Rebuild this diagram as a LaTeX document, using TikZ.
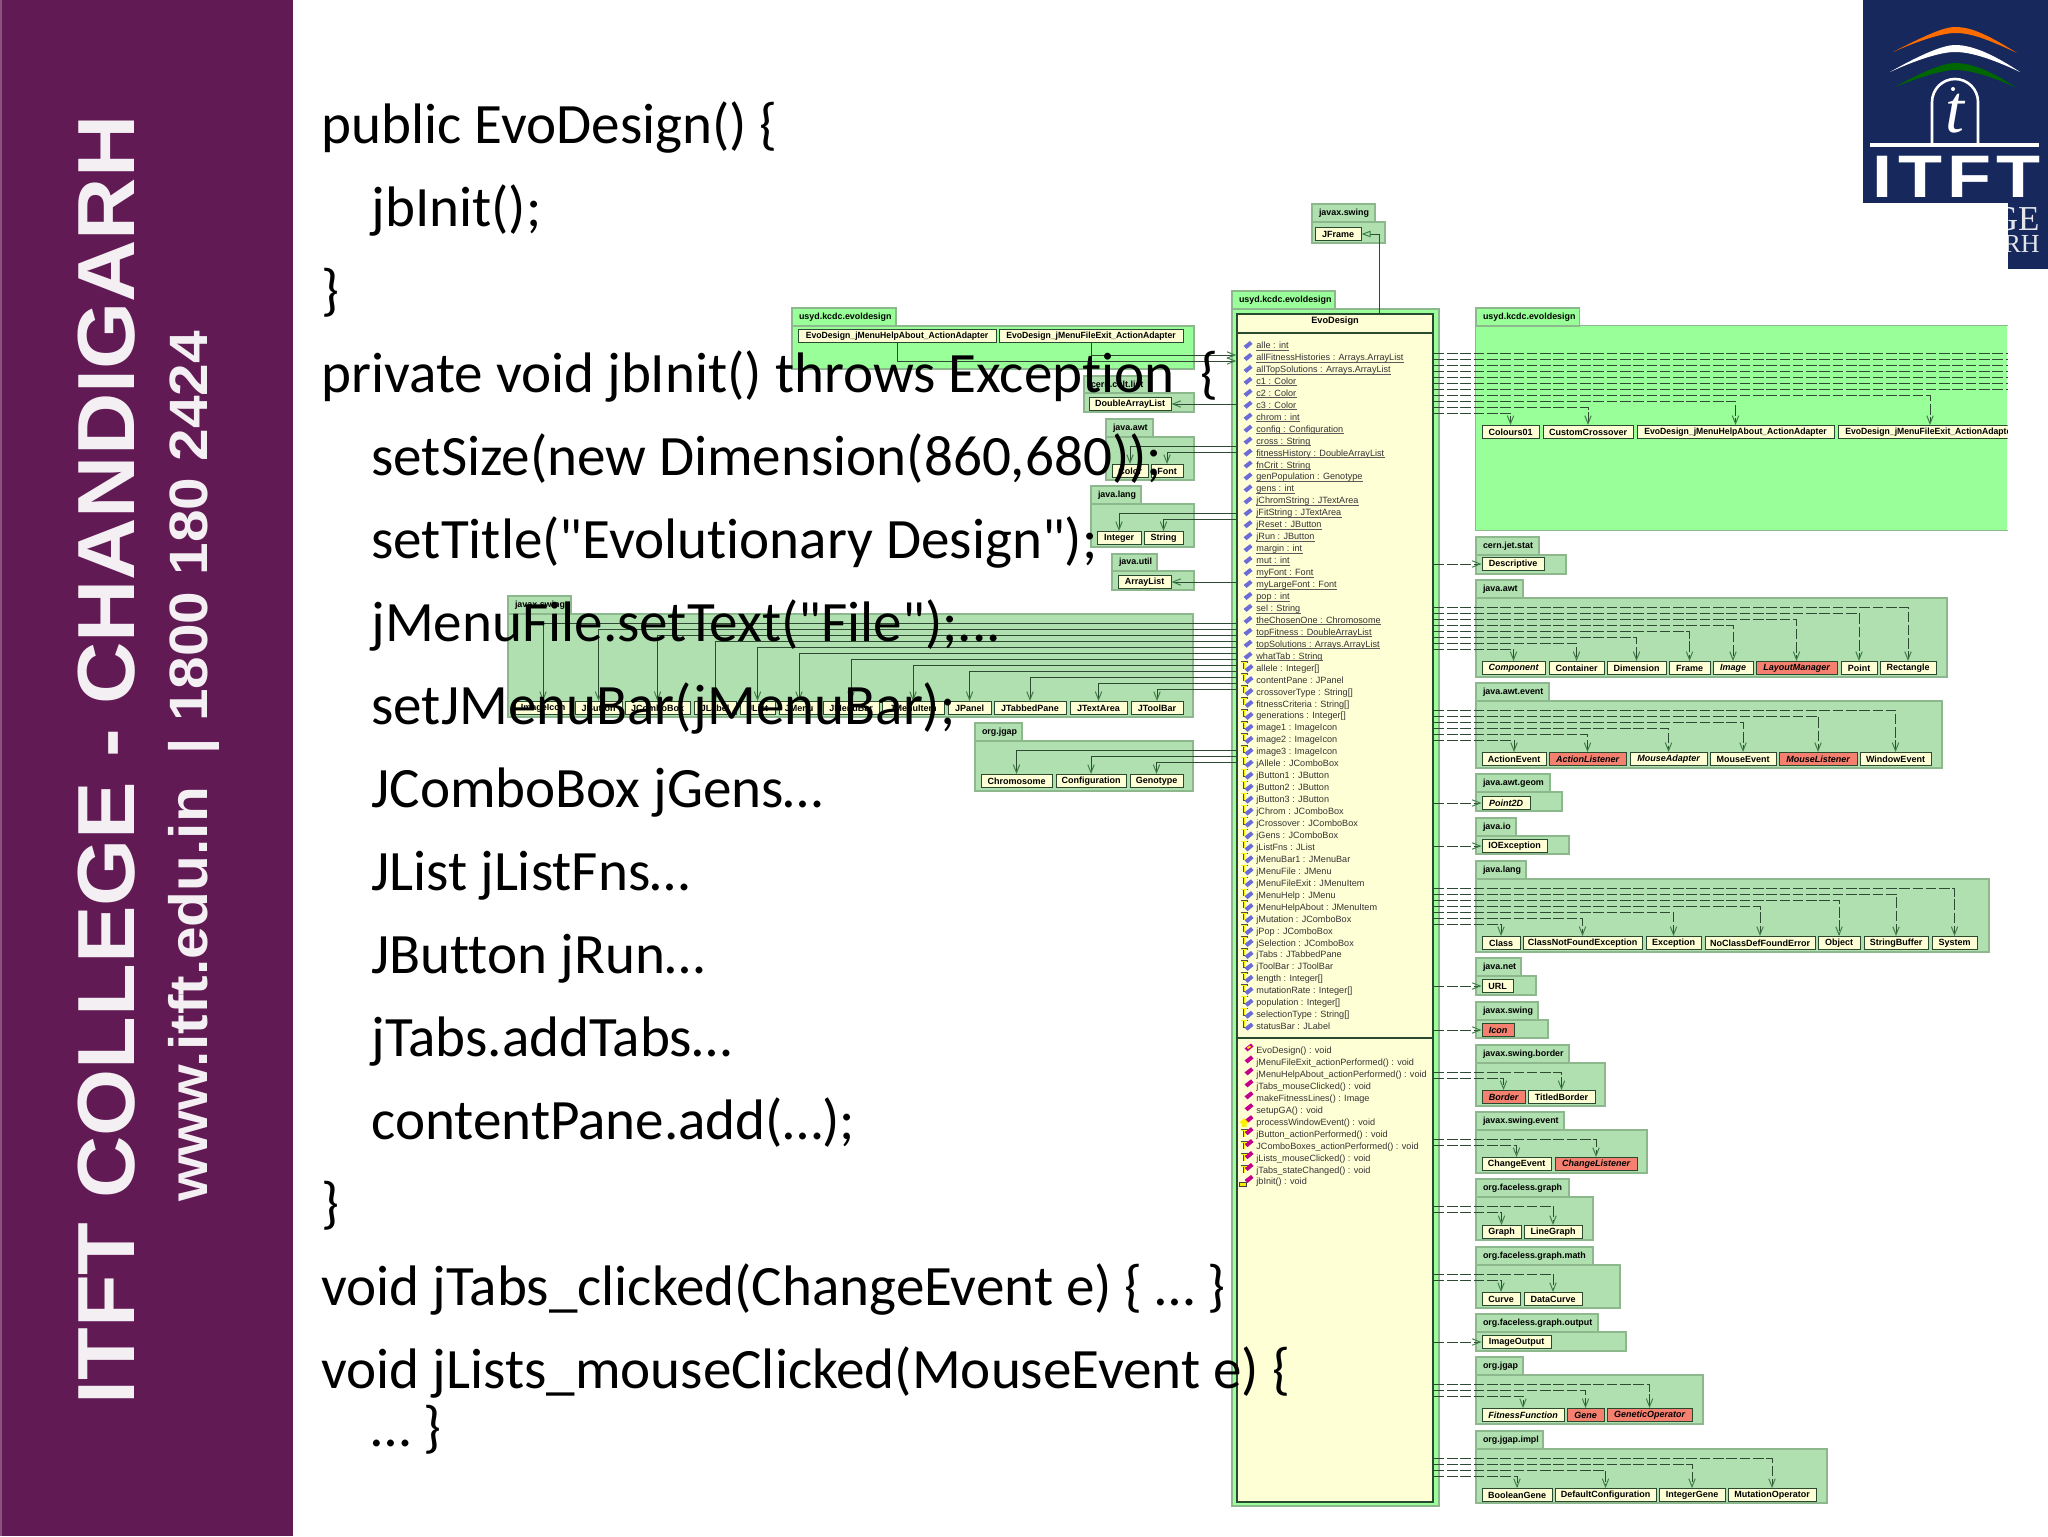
\documentclass[tikz,border=0pt]{standalone}
\usepackage{fontspec}
\usetikzlibrary{arrows.meta}
\newfontfamily\arialf{Liberation Sans}
\newfontfamily\calib[Ligatures=NoCommon]{Carlito}
\newfontfamily\timesf{Liberation Serif}
\definecolor{band}{HTML}{621A54}
\definecolor{navy}{HTML}{16285C}
\definecolor{pkgA}{HTML}{99FF99}
\definecolor{pkgB}{HTML}{B0E0B0}
\definecolor{pkgline}{HTML}{8DB88D}
\definecolor{cream}{HTML}{FFFFD6}
\definecolor{redbox}{HTML}{F58070}
\definecolor{boxline}{HTML}{2A4A30}
\definecolor{conn}{HTML}{2E4A32}
\definecolor{tipc}{HTML}{3F7F47}
\definecolor{attrblue}{HTML}{6C6CD8}
\definecolor{methmag}{HTML}{C4008C}
\tikzset{
 x=0.5pt,y=-0.5pt,
 pbody/.style={draw=pkgline,line width=.7pt,inner sep=0pt,fill=pkgB},
 pbodyA/.style={pbody,fill=pkgA},
 ptab/.style={pbody,font=\arialf\bfseries\fontsize{4.45pt}{5pt}\selectfont,align=left},
 ptabA/.style={ptab,fill=pkgA},
 cls/.style={draw=boxline,line width=.5pt,fill=cream,inner sep=0pt,minimum height=6.5pt,font=\arialf\bfseries\fontsize{4.5pt}{5pt}\selectfont},
 ital/.style={cls,font=\arialf\bfseries\itshape\fontsize{4.5pt}{5pt}\selectfont},
 redi/.style={ital,fill=redbox},
 dep/.style={draw=conn,line width=.5pt,dash pattern=on 5.3pt off 1.35pt,-{Straight Barb[length=4pt,width=3.2pt,color=tipc]}},
 depnt/.style={draw=conn,line width=.5pt,dash pattern=on 5.3pt off 1.35pt},
 use/.style={draw=conn,line width=.5pt,-{Straight Barb[length=4pt,width=3.2pt,color=tipc]}},
 attr/.style={anchor=base west,inner sep=0pt,text=black!80,font=\arialf\fontsize{4.55pt}{5pt}\selectfont},
 code/.style={anchor=base west,inner sep=0pt,font=\calib\fontsize{28.55pt}{30pt}\selectfont},
 bandbig/.style={anchor=base west,rotate=90,inner sep=0pt,text=white!93!band,font=\arialf\bfseries\fontsize{40.5pt}{44pt}\selectfont},
 bandsmall/.style={anchor=base west,rotate=90,inner sep=0pt,text=white!93!band,font=\arialf\bfseries\fontsize{27pt}{30pt}\selectfont},
}
% optional style, name, x1, tab x2, x2, y tab, y body, y bottom, label
\newcommand{\pkg}[9][]{%
 \def\pkgstyle{#1}%
 \ifx\pkgstyle\empty
  \node[pbody,minimum width={(#5-#3)*0.5pt},minimum height={(#8-#7)*0.5pt}] (#2body) at ({(#3+#5)/2},{(#7+#8)/2}) {};
  \node[ptab,minimum width={(#4-#3)*0.5pt},minimum height={(#7-#6)*0.5pt},text width={(#4-#3-14)*0.5pt}] (#2tab) at ({(#3+#4)/2},{(#6+#7)/2}) {#9};
 \else
  \node[pbodyA,minimum width={(#5-#3)*0.5pt},minimum height={(#8-#7)*0.5pt}] (#2body) at ({(#3+#5)/2},{(#7+#8)/2}) {};
  \node[ptabA,minimum width={(#4-#3)*0.5pt},minimum height={(#7-#6)*0.5pt},text width={(#4-#3-14)*0.5pt}] (#2tab) at ({(#3+#4)/2},{(#6+#7)/2}) {#9};
 \fi}
% style, name, x1, x2, y top, text
\newcommand{\cbox}[6][cls]{%
 \node[#1,minimum width={(#4-#3)*0.5pt}] (#2) at ({(#3+#4)/2},{#5+7}) {#6};}
\newcommand{\dept}[2]{\draw[dep] (evo.east |- 0,#1) -| (#2.north);}
\newcommand{\deps}[1]{\draw[dep] (evo.east |- #1.west) -- (#1.west);}
\newcommand{\usea}[2]{\draw[use] (evo.west |- 0,#1) -| (#2.north);}
\newcommand{\uses}[1]{\draw[use] (evo.west |- #1.east) -- (#1.east);}
\newcommand{\diam}[3]{\fill[#3] (#1-4.5,#2+1) -- (#1+2,#2-4) -- (#1+4.5,#2-1) -- (#1-1.5,#2+4) -- cycle;}
\newcommand{\ticon}[3]{\draw[line width=.7pt,draw=black!70] (#1-3.5,#2-5) -- (#1+3.5,#2-5) (#1,#2-5) -- (#1,#2+2);
 \draw[line width=.3pt,draw=#3] (#1-3,#2-5) -- (#1+3,#2-5) (#1,#2-5) -- (#1,#2+1.5);}
\begin{document}
\begin{tikzpicture}
\useasboundingbox (0,0) rectangle (2048,1536);
\fill[white] (0,0) rectangle (2048,1536);
% ---------- packages
\pkg{jfp}{1312}{1375}{1385}{204}{222}{243}{javax.swing}
\pkg[A]{evp}{1232}{1335}{1439}{291}{309}{1506}{usyd.kcdc.evoldesign}
\pkg[A]{lu}{792}{896}{1194}{308}{326}{369}{usyd.kcdc.evoldesign}
\pkg{colt}{1084}{1150}{1194}{376}{393}{412}{cern.colt.list}
\pkg{lawt}{1106}{1153}{1194}{419}{437}{480}{java.awt}
\pkg{llang}{1091}{1141}{1194}{486}{504}{547}{java.lang}
\pkg{lutil}{1112}{1157}{1194}{554}{571}{590}{java.util}
\pkg{lsw}{508}{571}{1193}{596}{614}{717}{javax.swing}
\pkg{ljg}{975}{1022}{1193}{723}{741}{791}{org.jgap}
% right usyd package: open at the right edge
\node[pbodyA,draw=none,minimum width=265.5pt,minimum height=102pt] (rubody) at (1741.5,428) {};
\node[ptabA,minimum width=51.75pt,minimum height=9pt,text width=44.75pt] (rutab) at (1527.75,317) {usyd.kcdc.evoldesign};
\draw[pkgline,line width=.7pt] (rubody.north east) -- (rubody.north west) -- (rubody.south west) -- (rubody.south east);
\pkg{stat}{1476}{1539}{1566}{537}{555}{574}{cern.jet.stat}
\pkg{awt}{1476}{1523}{1947}{580}{598}{677}{java.awt}
\pkg{evt}{1476}{1549}{1942}{683}{701}{768}{java.awt.event}
\pkg{geom}{1476}{1550}{1562}{774}{792}{811}{java.awt.geom}
\pkg{jio}{1476}{1516}{1569}{818}{836}{854}{java.io}
\pkg{lang}{1476}{1526}{1989}{861}{879}{952}{java.lang}
\pkg{net}{1476}{1521}{1536}{958}{976}{995}{java.net}
\pkg{icn}{1476}{1538}{1548}{1002}{1020}{1038}{javax.swing}
\pkg{brd}{1476}{1569}{1605}{1045}{1063}{1106}{javax.swing.border}
\pkg{sev}{1476}{1564}{1647}{1112}{1130}{1173}{javax.swing.event}
\pkg{fg}{1476}{1569}{1593}{1179}{1197}{1240}{org.faceless.graph}
\pkg{fgm}{1476}{1593}{1620}{1247}{1265}{1308}{org.faceless.graph.math}
\pkg{fgo}{1476}{1598}{1626}{1314}{1332}{1351}{org.faceless.graph.output}
\pkg{jg}{1476}{1523}{1703}{1357}{1375}{1424}{org.jgap}
\pkg{jgi}{1476}{1543}{1827}{1431}{1449}{1503}{org.jgap.impl}
% ---------- central class
\node[draw=boxline,line width=.7pt,fill=cream,inner sep=0pt,minimum width=98pt,minimum height=594pt] (evo) at (1335,908) {};
\node[inner sep=0pt,font=\arialf\bfseries\fontsize{4.6pt}{5pt}\selectfont] (evotitle) at (1335,321) {EvoDesign};
\draw[boxline,line width=.6pt] (evo.west |- 0,333) -- (evo.east |- 0,333);
\draw[boxline,line width=.6pt] (evo.west |- 0,1038) -- (evo.east |- 0,1038);
\foreach \t [count=\i from 0] in {alle : int, allFitnessHistories : Arrays.ArrayList, allTopSolutions : Arrays.ArrayList, c1 : Color, c2 : Color, c3 : Color, chrom : int, config : Configuration, cross : String, fitnessHistory : DoubleArrayList, fnCrit : String, genPopulation : Genotype, gens : int, jChromString : JTextArea, jFitString : JTextArea, jReset : JButton, jRun : JButton, margin : int, mut : int, myFont : Font, myLargeFont : Font, pop : int, sel : String, theChosenOne : Chromosome, topFitness : DoubleArrayList, topSolutions : Arrays.ArrayList, whatTab : String}{
 \pgfmathsetmacro\yy{348.5+11.95*\i}
 \node[attr] (at\i) at (1256,\yy) {\t};
 \draw[black!65,line width=.3pt] ([yshift=-.7pt]at\i.base west) -- ([yshift=-.7pt]at\i.base east);
 \diam{1248}{\yy-3.5}{attrblue}
}
\foreach \t [count=\i from 27] in {allele : Integer[], contentPane : JPanel, crossoverType : String[], fitnessCriteria : String[], generations : Integer[], image1 : ImageIcon, image2 : ImageIcon, image3 : ImageIcon, jAllele : JComboBox, jButton1 : JButton, jButton2 : JButton, jButton3 : JButton, jChrom : JComboBox, jCrossover : JComboBox, jGens : JComboBox, jListFns : JList, jMenuBar1 : JMenuBar, jMenuFile : JMenu, jMenuFileExit : JMenuItem, jMenuHelp : JMenu, jMenuHelpAbout : JMenuItem, jMutation : JComboBox, jPop : JComboBox, jSelection : JComboBox, jTabs : JTabbedPane, jToolBar : JToolBar, length : Integer[], mutationRate : Integer[], population : Integer[], selectionType : String[], statusBar : JLabel}{
 \pgfmathsetmacro\yy{348.5+11.95*\i}
 \node[attr] (at\i) at (1256,\yy) {\t};
 \diam{1249}{\yy-3}{attrblue}
 \ticon{1244}{\yy-4}{yellow}
}
\foreach \t [count=\i from 0] in {EvoDesign() : void, jMenuFileExit\_actionPerformed() : void, jMenuHelpAbout\_actionPerformed() : void, jTabs\_mouseClicked() : void, makeFitnessLines() : Image, setupGA() : void, processWindowEvent() : void, jButton\_actionPerformed() : void, JComboBoxes\_actionPerformed() : void, jLists\_mouseClicked() : void, jTabs\_stateChanged() : void, jbInit() : void}{
 \pgfmathsetmacro\yy{1053.5+11.95*\i}
 \node[attr] (me\i) at (1256,\yy) {\t};
 \diam{1249}{\yy-6}{methmag}
 \ifnum\i=0 \fill[yellow!80!orange] (1247,1047.5) -- (1250,1045.5) -- (1251,1047) -- (1248,1049) -- cycle;\fi
 \ifnum\i=6 \fill[yellow] (1244,\yy-7) -- (1249,\yy-2) -- (1246.5,\yy-2) -- (1246.5,\yy+2) -- (1241.5,\yy+2) -- (1241.5,\yy-2) -- (1239,\yy-2) -- cycle;\fi
 \ifnum\i>6 \ifnum\i<11 \ticon{1244}{\yy-2}{yellow}\fi\fi
 \ifnum\i=11 \fill[black!75] (1239,\yy-3) rectangle (1247,\yy+2.5); \fill[yellow!90!orange] (1240,\yy-2) rectangle (1246,\yy+1.5);\fi
}
% ---------- class boxes
\cbox{jframe}{1315}{1361}{227}{JFrame}
\cbox{helpL}{798}{996}{329}{\scalebox{.96}[1]{EvoDesign\_jMenuHelpAbout\_ActionAdapter}}
\cbox{fileL}{999}{1183}{329}{\scalebox{.96}[1]{EvoDesign\_jMenuFileExit\_ActionAdapter}}
\cbox{dal}{1089}{1171}{397}{DoubleArrayList}
\cbox{colorb}{1112}{1148}{464}{Color}
\cbox{fontb}{1151}{1183}{464}{Font}
\cbox{integerb}{1097}{1141}{531}{Integer}
\cbox{stringb}{1144}{1183}{531}{String}
\cbox{arrl}{1118}{1171}{575}{ArrayList}
\cbox{imgicon}{515}{571}{701}{ImageIcon}
\cbox{jbutton}{575}{622}{701}{JButton}
\cbox{jcombo}{625}{690}{701}{JComboBox}
\cbox{jlabel}{694}{736}{701}{JLabel}
\cbox{jlist}{740}{775}{701}{JList}
\cbox{jmenu}{779}{819}{701}{JMenu}
\cbox{jmbar}{823}{879}{701}{JMenuBar}
\cbox{jmitem}{882}{944}{701}{JMenuItem}
\cbox{jpanel}{948}{991}{701}{JPanel}
\cbox{jtabbed}{994}{1066}{701}{JTabbedPane}
\cbox{jtext}{1070}{1127}{701}{JTextArea}
\cbox{jtool}{1131}{1183}{701}{JToolBar}
\cbox{chromo}{981}{1052}{774}{Chromosome}
\cbox{config}{1056}{1126}{774}{Configuration}
\cbox{genot}{1130}{1183}{774}{Genotype}
\cbox{col01}{1482}{1539}{425}{Colours01}
\cbox{custom}{1543}{1633}{425}{CustomCrossover}
\cbox{helpR}{1637}{1834}{425}{\scalebox{.96}[1]{EvoDesign\_jMenuHelpAbout\_ActionAdapter}}
\begin{scope}
\clip (rubody.north west) rectangle (rubody.south east);
\cbox{fileR}{1838}{2022}{425}{\scalebox{.96}[1]{EvoDesign\_jMenuFileExit\_ActionAdapter}}
\end{scope}
\cbox{descr}{1482}{1544}{557}{Descriptive}
\cbox[ital]{compo}{1482}{1545}{661}{Component}
\cbox{contai}{1549}{1604}{661}{Container}
\cbox{dimen}{1607}{1666}{661}{Dimension}
\cbox{frameb}{1669}{1710}{661}{Frame}
\cbox[ital]{imageb}{1713}{1753}{661}{Image}
\cbox[redi]{layout}{1756}{1837}{661}{LayoutManager}
\cbox{pointb}{1841}{1877}{661}{Point}
\cbox{recta}{1880}{1936}{661}{Rectangle}
\cbox{actev}{1482}{1546}{752}{ActionEvent}
\cbox[redi]{actli}{1549}{1626}{752}{ActionListener}
\cbox[ital]{mouad}{1630}{1707}{752}{MouseAdapter}
\cbox{mouev}{1710}{1776}{752}{MouseEvent}
\cbox[redi]{mouli}{1779}{1857}{752}{MouseListener}
\cbox{winev}{1860}{1931}{752}{WindowEvent}
\cbox[ital]{pt2d}{1482}{1530}{796}{Point2D}
\cbox{ioex}{1482}{1547}{839}{IOException}
\cbox{classb}{1482}{1520}{936}{Class}
\cbox{cnfe}{1523}{1642}{936}{ClassNotFoundException}
\cbox{excep}{1646}{1701}{936}{Exception}
\cbox{ncdfe}{1705}{1815}{936}{NoClassDefFoundError}
\cbox{objec}{1818}{1860}{936}{Object}
\cbox{strbuf}{1864}{1928}{936}{StringBuffer}
\cbox{systm}{1932}{1977}{936}{System}
\cbox{urlb}{1482}{1513}{979}{URL}
\cbox[redi]{iconb}{1482}{1514}{1023}{Icon}
\cbox[redi]{border}{1482}{1525}{1090}{Border}
\cbox{titled}{1528}{1595}{1090}{TitledBorder}
\cbox{chev}{1482}{1551}{1157}{ChangeEvent}
\cbox[redi]{chli}{1555}{1637}{1157}{ChangeListener}
\cbox{graphb}{1482}{1521}{1225}{Graph}
\cbox{lineg}{1524}{1582}{1225}{LineGraph}
\cbox{curve}{1482}{1520}{1292}{Curve}
\cbox{datac}{1524}{1582}{1292}{DataCurve}
\cbox{imgout}{1482}{1551}{1335}{ImageOutput}
\cbox[ital]{fitfn}{1482}{1564}{1408}{FitnessFunction}
\cbox[redi]{gene}{1567}{1604}{1408}{Gene}
\cbox[redi]{genop}{1607}{1692}{1408}{GeneticOperator}
\cbox{boolg}{1482}{1552}{1488}{BooleanGene}
\cbox{defcfg}{1555}{1656}{1488}{DefaultConfiguration}
\cbox{intg}{1659}{1725}{1488}{IntegerGene}
\cbox{mutop}{1728}{1816}{1488}{MutationOperator}
% ---------- connectors
\coordinate (jfx) at (1379,234);
\draw[draw=conn,line width=.5pt,-{Triangle[open,length=4.5pt,width=3.2pt,color=tipc]}] (evo.north -| jfx) |- (jframe.east);
\draw[use] (helpL.south -| 897,0) |- (evo.west |- 0,361);
\draw[use] (fileL.south -| 1091,0) |- (evo.west |- 0,355);
\uses{dal}
\usea{446}{colorb}\usea{452}{fontb}
\usea{513}{integerb}\usea{519}{stringb}
\uses{arrl}
\foreach \yy/\bb in {623/imgicon,629/jbutton,635/jcombo,641/jlabel,647/jlist,653/jmenu,659/jmbar,665/jmitem,671/jpanel,677/jtabbed,683/jtext,689/jtool,750/chromo,756/config,762/genot}{\usea{\yy}{\bb}}
\foreach \yy in {353,359,365,371,377,383,389}{\draw[depnt] (evo.east |- 0,\yy) -- (rubody.east |- 0,\yy);}
\foreach \yy/\bb in {395/fileR,401/helpR,407/custom,413/col01,
 607/recta,613/pointb,619/layout,625/imageb,631/frameb,637/dimen,643/contai,649/compo,
 710/winev,716/mouli,722/mouev,728/mouad,734/actli,740/actev,
 888/systm,894/strbuf,900/objec,906/ncdfe,912/excep,918/cnfe,924/classb,
 1072/titled,1078/border,1139/chli,1145/chev,1206/lineg,1212/graphb,1274/datac,1280/curve,
 1384/genop,1390/gene,1396/fitfn,1458/mutop,1464/intg,1470/defcfg,1476/boolg}{\dept{\yy}{\bb}}
\foreach \bb in {descr,pt2d,ioex,urlb,iconb,imgout}{\deps{\bb}}
% ---------- left band
\fill[band] (0,0) rectangle (293,1536);
\fill[band!75!white] (0,0) rectangle (1.5,1536);
\node[bandbig] (title) at (134,1405) {\scalebox{1.065}[1]{ITFT COLLEGE - CHANDIGARH}};
\node[bandsmall] (web) at (207,1202) {\scalebox{1.085}[1]{www.itft.edu.in\ \ | 1800 180 2424}};
% ---------- logo
\fill[navy] (1863,0) rectangle (2048,203);
\fill[navy] (2008,203) rectangle (2048,269);
\begin{scope}
\clip (2008,203) rectangle (2048,269);
\node[anchor=base east,inner sep=0pt,text=white!88!navy,font=\timesf\fontsize{17.5pt}{18pt}\selectfont] (lge) at (2040,230) {GE};
\node[anchor=base east,inner sep=0pt,text=white!88!navy,font=\timesf\fontsize{13pt}{14pt}\selectfont] (lrh) at (2040,252) {RH};
\end{scope}
\fill[orange!85!red] (1893,52) .. controls (1930,33) and (1945,27) .. (1955,27) .. controls (1970,27) and (1985,33) .. (2017,53) .. controls (1985,38) and (1970,33) .. (1955,33) .. controls (1945,33) and (1925,38) .. (1893,52) -- cycle;
\fill[white] (1890,72) .. controls (1925,52) and (1945,45) .. (1955,45) .. controls (1970,45) and (1990,52) .. (2020,72) .. controls (1990,58) and (1970,52) .. (1955,52) .. controls (1945,52) and (1925,56) .. (1890,72) -- cycle;
\fill[green!40!black] (1895,87) .. controls (1925,70) and (1945,63) .. (1955,63) .. controls (1970,63) and (1990,70) .. (2015,87) .. controls (1990,76) and (1970,70) .. (1955,70) .. controls (1945,70) and (1925,75) .. (1895,87) -- cycle;
\draw[white,line width=1.3pt] (1932,143) -- (1932,102) arc[start angle=180,end angle=0,x radius=23,y radius=-23] -- (1978,143);
\fill[white] (1870,143) rectangle (2039,147);
\node[inner sep=0pt,text=white,font=\timesf\itshape\fontsize{34pt}{34pt}\selectfont] (lt) at (1955,114) {t};
\fill[white] (1953,89) circle[radius=2];
\node[anchor=base,inner sep=0pt,text=white,font=\arialf\bfseries\fontsize{30pt}{30pt}\selectfont] (litft) at (1956.5,197) {\scalebox{1.2}[1]{I\hspace{2.1pt}T\hspace{2.1pt}F\hspace{2.1pt}T}};
% ---------- code text (printed over the diagram)
\foreach \t/\cx/\by [count=\i] in {
 {public EvoDesign() \{}/321/143,
 {jbInit();}/371/226,
 {\}}/321/309,
 {private void jbInit() throws Exception\ \ \{}/321/392,
 {setSize(new Dimension(860,680));}/371/475,
 {setTitle("Evolutionary Design");}/371/558,
 {jMenuFile.setText("File");...}/371/641,
 {setJMenuBar(jMenuBar);}/371/724,
 {JComboBox jGens…}/371/807,
 {JList jListFns…}/371/890,
 {JButton jRun…}/371/973,
 {jTabs.addTabs…}/371/1056,
 {contentPane.add(…);}/371/1139,
 {\}}/321/1222,
 {void jTabs\_clicked(ChangeEvent e) \{ … \}}/321/1305,
 {void jLists\_mouseClicked(MouseEvent e) \{}/321/1388,
 {… \}}/371/1446}{
 \node[code] (code\i) at (\cx,\by) {\t};
}
\end{tikzpicture}
\end{document}
